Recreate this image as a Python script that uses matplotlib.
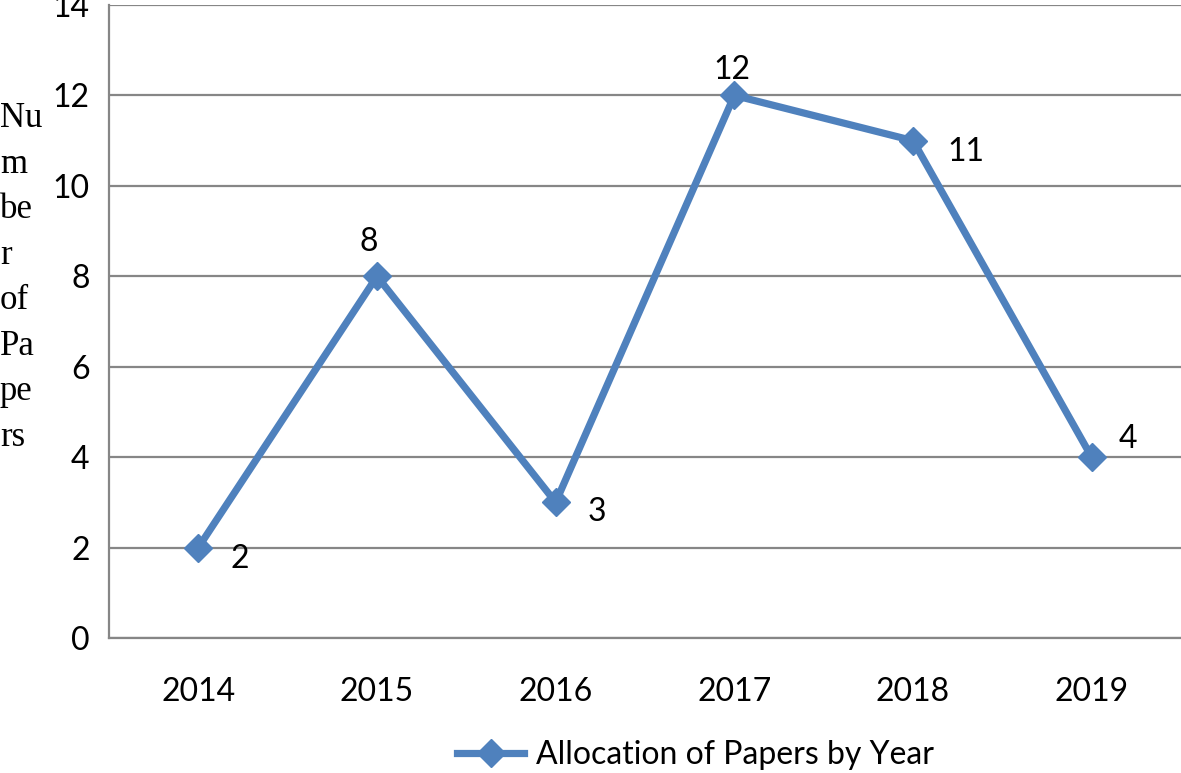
import matplotlib
matplotlib.use('Agg')
import matplotlib.pyplot as plt

years = ['2014', '2015', '2016', '2017', '2018', '2019']
papers = [2, 8, 3, 12, 11, 4]
# where each data label sits relative to its point (points offset)
label_offsets = [(30, -8), (-6, 25), (30, -7), (-2, 18), (38, -8), (26, 13)]

plt.rcParams['font.family'] = ['Lato', 'DejaVu Sans']

fig = plt.figure(figsize=(11.81, 7.73), dpi=100)
ax = fig.add_axes([0.0923, 0.1747, 0.9077, 0.8188])

x = list(range(len(years)))
ax.plot(x, papers, color='#4F81BD', linewidth=5.2, marker='D', markersize=14,
        label='Allocation of Papers by Year', zorder=3)

for xi, val, off in zip(x, papers, label_offsets):
    ax.annotate(str(val), (xi, val), xytext=off, textcoords='offset points',
                ha='center', va='center', fontsize=23)

ax.set_xlim(-0.5, len(years) - 0.5)
ax.set_ylim(0, 14)
ax.set_yticks(range(0, 15, 2))
ax.set_xticks(x)
ax.set_xticklabels(years)
ax.tick_params(axis='both', length=0, labelsize=23)
ax.tick_params(axis='x', pad=28)
ax.tick_params(axis='y', pad=14)

ax.yaxis.grid(True, color='#868686', linewidth=1.6)
ax.set_axisbelow(True)
for side in ['top', 'right']:
    ax.spines[side].set_visible(False)
for side in ['left', 'bottom']:
    ax.spines[side].set_color('#868686')
    ax.spines[side].set_linewidth(1.6)

fig.text(0.0, 0.868, 'Nu\nm\nbe\nr\nof\nPa\npe\nrs', family='Liberation Serif',
         fontsize=25, ha='left', va='top', linespacing=1.5)

ax.legend(loc='center', bbox_to_anchor=(0.547, -0.185), frameon=False,
          fontsize=23, handlelength=2.1, handletextpad=0.35)

fig.savefig('out.png', dpi=100)
